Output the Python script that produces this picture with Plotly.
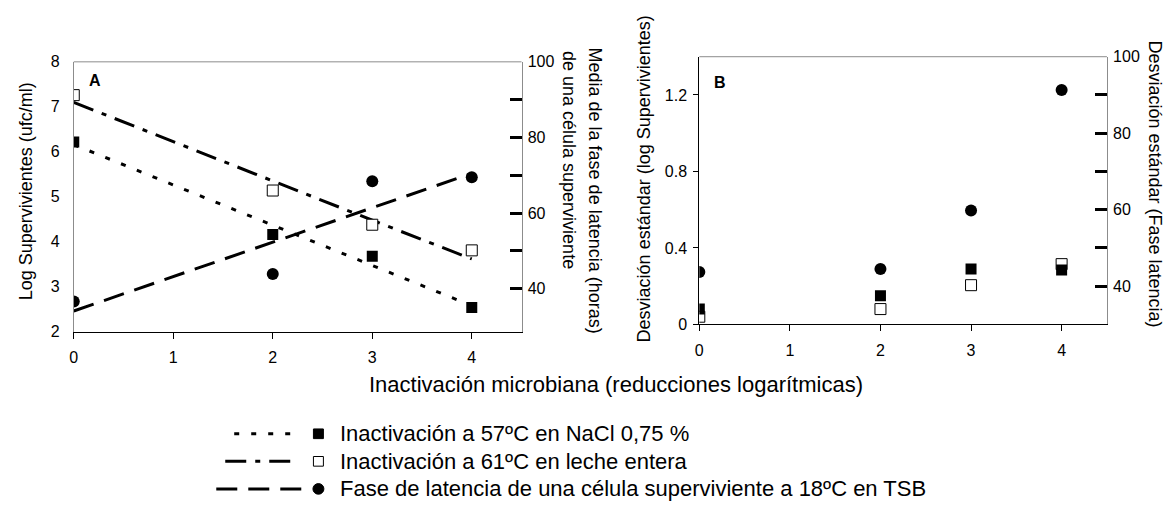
import plotly.graph_objects as go

# ---------------- data ----------------
x_red = [0, 2, 3, 4]  # log reductions

# Panel A: log survivors (left axis) and mean lag of one surviving cell (right axis)
nacl_57 = [6.22, 4.16, 3.68, 2.54]
leche_61 = [7.26, 5.14, 4.38, 3.81]
lag_18 = [36.6, 43.9, 68.4, 69.5]

# fitted trend lines, Panel A
nacl_57_fit = [6.16, 4.37, 3.48, 2.58]
leche_61_fit = [7.10, 5.35, 4.48, 3.62]
lag_18_fit = [34.1, 52.3, 61.4, 70.5]

# Panel B: standard deviations
sd_nacl_57 = [0.08, 0.15, 0.29, 0.285]
sd_leche_61 = [0.04, 0.08, 0.205, 0.315]
sd_lag_18 = [43.7, 44.5, 59.8, 91.3]

x_ticks = [0, 1, 2, 3, 4]
yA_ticks = [2, 3, 4, 5, 6, 7, 8]
yB_ticks = [0, 0.4, 0.8, 1.2]
yB_ticktext = ["0", "0.4", "0.8", "1.2"]
right_minor = [40, 50, 60, 70, 80, 90]
right_labels = [40, 60, 80, 100]

legend_labels = [
    "Inactivación a 57ºC en NaCl 0,75 %",
    "Inactivación a 61ºC en leche entera",
    "Fase de latencia de una célula superviviente a 18ºC en TSB",
]

# ---------------- layout helpers ----------------
W, H = 1167, 509
FONT = "Liberation Sans, Arial, sans-serif"
GRAY = "#8c8c8c"


def px(x):
    return x / W


def py(y):
    return 1 - y / H


A_dom_x = [px(70), px(519.3)]
A_dom_y = [py(335), py(55.7)]
B_dom_x = [px(697.7), px(1106.7)]
B_dom_y = [py(327.3), py(50.4)]

DOT = "5px,12px"
DASHDOT = "21px,9px,5px,9px"
DASH = "21px,11px"

fig = go.Figure()

# ----- Panel A -----
fig.add_trace(go.Scatter(x=x_red, y=nacl_57_fit, mode="lines", xaxis="x", yaxis="y",
                         line=dict(color="black", width=3, dash=DOT), showlegend=False))
fig.add_trace(go.Scatter(x=x_red, y=leche_61_fit, mode="lines", xaxis="x", yaxis="y",
                         line=dict(color="black", width=3, dash=DASHDOT), showlegend=False))
fig.add_trace(go.Scatter(x=x_red, y=leche_61, mode="markers", xaxis="x", yaxis="y",
                         marker=dict(symbol="square", size=11, color="white",
                                     line=dict(color="black", width=1)), showlegend=False))
fig.add_trace(go.Scatter(x=x_red, y=nacl_57, mode="markers", xaxis="x", yaxis="y",
                         marker=dict(symbol="square", size=11, color="black"), showlegend=False))
fig.add_trace(go.Scatter(x=x_red, y=lag_18_fit, mode="lines", xaxis="x", yaxis="y2",
                         line=dict(color="black", width=3, dash=DASH), showlegend=False))
fig.add_trace(go.Scatter(x=x_red, y=lag_18, mode="markers", xaxis="x", yaxis="y2",
                         marker=dict(symbol="circle", size=12, color="black"), showlegend=False))

# ----- Panel B -----
fig.add_trace(go.Scatter(x=x_red, y=sd_leche_61, mode="markers", xaxis="x2", yaxis="y4",
                         marker=dict(symbol="square", size=11, color="white",
                                     line=dict(color="black", width=1)), showlegend=False))
fig.add_trace(go.Scatter(x=x_red, y=sd_nacl_57, mode="markers", xaxis="x2", yaxis="y4",
                         marker=dict(symbol="square", size=11, color="black"), showlegend=False))
fig.add_trace(go.Scatter(x=x_red, y=sd_lag_18, mode="markers", xaxis="x2", yaxis="y5",
                         marker=dict(symbol="circle", size=12, color="black"), showlegend=False))

tick_font = dict(family=FONT, size=16, color="black")

common_x = dict(range=[0, 4.5], tickvals=x_ticks, ticks="outside", ticklen=6,
                tickcolor="black", tickwidth=1, showline=True, linecolor="black",
                linewidth=1, showgrid=False, zeroline=False, tickfont=tick_font,
                ticklabelstandoff=5)

# secondary axis: labelled every 20 h, thick inner ticks every 10 h
right_axis = dict(side="right", tickvals=right_labels, ticks="", showticklabels=True,
                  tickfont=tick_font, ticklabelstandoff=2,
                  minor=dict(tickvals=right_minor, ticks="inside", ticklen=12,
                             tickwidth=3, tickcolor="black", showgrid=False),
                  showline=True, linecolor=GRAY, linewidth=1, showgrid=False,
                  zeroline=False)

fig.update_layout(
    width=W, height=H,
    margin=dict(l=0, r=0, t=0, b=0),
    paper_bgcolor="white", plot_bgcolor="rgba(0,0,0,0)",
    font=dict(family=FONT, color="black"),
    xaxis=dict(domain=A_dom_x, anchor="y", **common_x),
    yaxis=dict(domain=A_dom_y, anchor="x", range=[2, 8], tickvals=yA_ticks,
               ticks="outside", ticklen=10, tickcolor="rgba(0,0,0,0)",
               showline=True, linecolor=GRAY, linewidth=1, showgrid=False,
               zeroline=False, tickfont=tick_font),
    yaxis2=dict(overlaying="y", anchor="x", range=[28.6, 100], **right_axis),
    xaxis2=dict(domain=B_dom_x, anchor="y4", **common_x),
    yaxis4=dict(domain=B_dom_y, anchor="x2", range=[0, 1.4], tickvals=yB_ticks,
                ticktext=yB_ticktext, ticks="outside", ticklen=5, tickcolor="black",
                showline=True, linecolor="black", linewidth=1, showgrid=False,
                zeroline=False, tickfont=tick_font, ticklabelstandoff=3),
    yaxis5=dict(overlaying="y4", anchor="x2", range=[30, 100], **right_axis),
)

# frame borders (top edges)
shapes = []
for dx, dy in ((A_dom_x, A_dom_y), (B_dom_x, B_dom_y)):
    shapes.append(dict(type="line", xref="paper", yref="paper", x0=dx[0], x1=dx[1],
                       y0=dy[1], y1=dy[1], line=dict(color=GRAY, width=1)))

# ----- text -----
ann = []


def text(x, y, s, size=18, angle=0, xanchor="center", yanchor="middle", bold=False):
    ann.append(dict(x=px(x), y=py(y), xref="paper", yref="paper",
                    text=f"<b>{s}</b>" if bold else s, showarrow=False,
                    textangle=angle, xanchor=xanchor, yanchor=yanchor,
                    font=dict(family=FONT, size=size, color="black")))


text(91, 75, "A", size=16, bold=True)
text(718, 77, "B", size=16, bold=True)
text(21.7, 190, "Log Supervivientes (ufc/ml)", angle=-90)
text(592.7, 188.5, "Media de la fase de latencia (horas)", angle=90)
text(566.7, 157, "de una célula superviviente", angle=90)
text(642, 176.5, "Desviación estándar (log Supervivientes)", angle=-90)
text(1155, 181.5, "Desviación estándar (Fase latencia)", angle=90)
text(614, 389, "Inactivación microbiana (reducciones logarítmicas)", size=22)

# ----- legend keys -----
rows_y = [440.5, 469, 497.5]
key_lines = [(231, 292, DOT), (222, 296, DASHDOT), (213, 303, DASH)]
mk_x = 315.5
for i, (yy, (x0, x1, dash), label) in enumerate(zip(rows_y, key_lines, legend_labels)):
    shapes.append(dict(type="line", xref="paper", yref="paper", x0=px(x0), x1=px(x1),
                       y0=py(yy), y1=py(yy), line=dict(color="black", width=3, dash=dash)))
    s = 5
    if i == 0:
        shapes.append(dict(type="rect", xref="paper", yref="paper", x0=px(mk_x - s),
                           x1=px(mk_x + s), y0=py(yy + s), y1=py(yy - s),
                           fillcolor="black", line=dict(color="black", width=1)))
    elif i == 1:
        shapes.append(dict(type="rect", xref="paper", yref="paper", x0=px(mk_x - s),
                           x1=px(mk_x + s), y0=py(yy + s), y1=py(yy - s),
                           fillcolor="white", line=dict(color="black", width=1)))
    else:
        shapes.append(dict(type="circle", xref="paper", yref="paper", x0=px(mk_x - 5.5),
                           x1=px(mk_x + 5.5), y0=py(yy + 5.5), y1=py(yy - 5.5),
                           fillcolor="black", line=dict(color="black", width=1)))
    text(335, yy, label, size=22, xanchor="left")

fig.update_layout(shapes=shapes, annotations=ann)
fig.write_html("out.html")
